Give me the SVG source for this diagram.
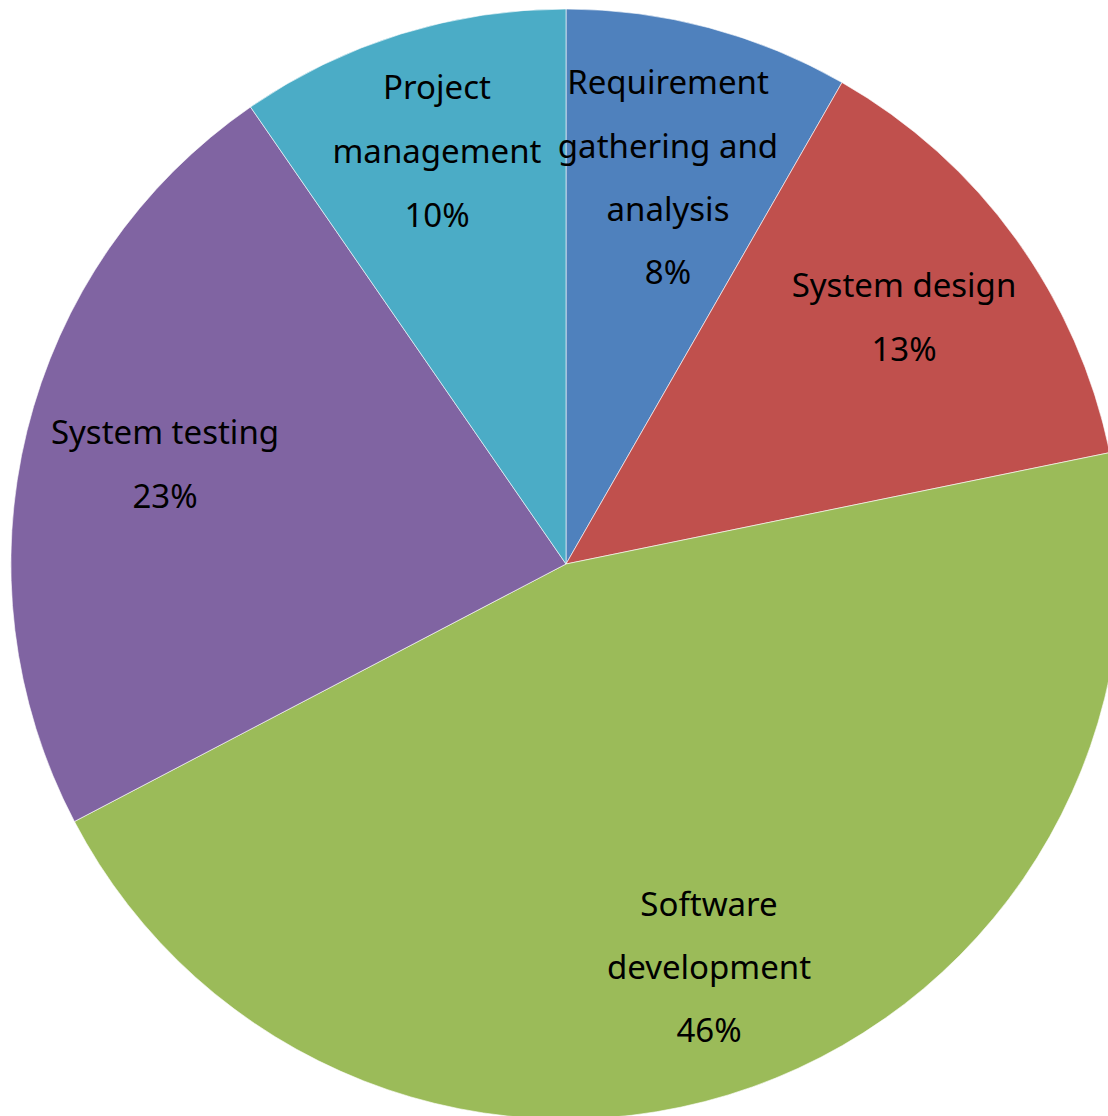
<svg xmlns="http://www.w3.org/2000/svg" width="1108" height="1116" viewBox="0 0 1108 1116">
<style>
.s{stroke:#ffffff;stroke-width:0.6;stroke-linejoin:round}
text{font-family:"Noto Sans","DejaVu Sans",sans-serif;font-size:33px;fill:#000;text-anchor:middle}
</style>
<rect width="1108" height="1116" fill="#ffffff"/>
<g id="slices">
<g id="req"><path class="s" fill="#4F81BD" d="M566,564 L566,9 A555,555 0 0 1 842,82.5 Z"/></g>
<g id="design"><path class="s" fill="#C0504D" d="M566,564 L842,82.5 A555,555 0 0 1 1109.8,452.6 Z"/></g>
<g id="dev"><path class="s" fill="#9BBB59" d="M566,564 L1109.8,452.6 A555,555 0 0 1 74.4,821.5 Z"/></g>
<g id="test"><path class="s" fill="#8064A2" d="M566,564 L74.4,821.5 A555,555 0 0 1 250.5,107 Z"/></g>
<g id="pm"><path class="s" fill="#4BACC6" d="M566,564 L250.5,107 A555,555 0 0 1 566,9 Z"/></g>
</g>
<g id="labels">
<g id="label-req"><text x="668" y="94">Requirement</text><text x="668" y="158">gathering and</text><text x="668" y="221">analysis</text><text x="668" y="284">8%</text></g>
<g id="label-pm"><text x="437" y="99">Project</text><text x="437" y="163">management</text><text x="437" y="227">10%</text></g>
<g id="label-design"><text x="904" y="297">System design</text><text x="904" y="361">13%</text></g>
<g id="label-test"><text x="165" y="444">System testing</text><text x="165" y="508">23%</text></g>
<g id="label-dev"><text x="709" y="916">Software</text><text x="709" y="979">development</text><text x="709" y="1042">46%</text></g>
</g>
</svg>
